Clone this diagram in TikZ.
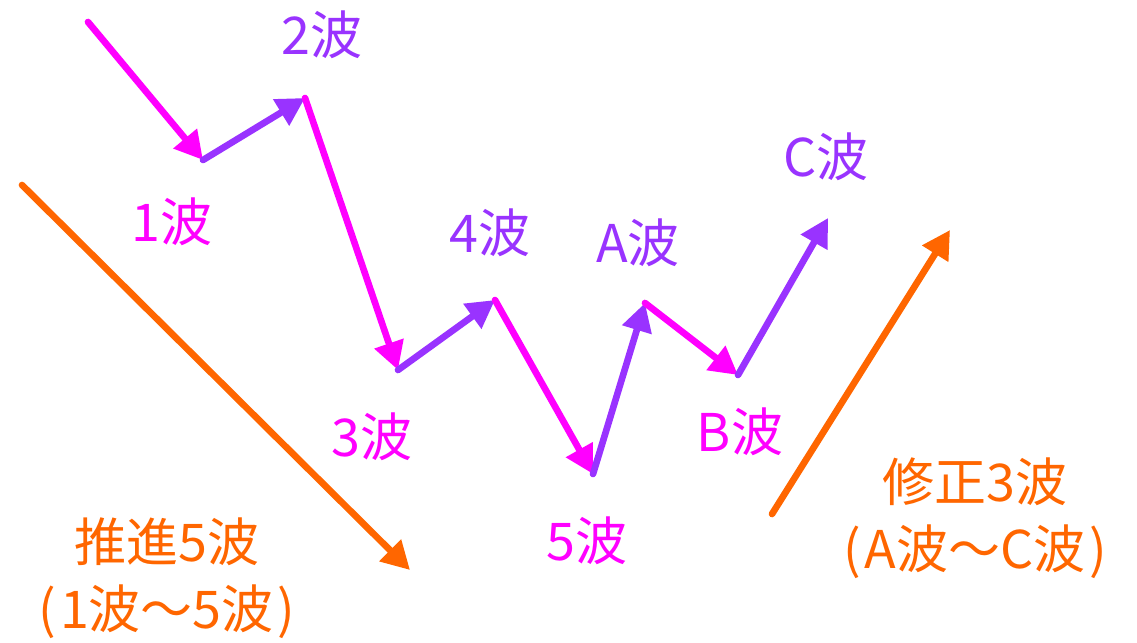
\documentclass[tikz,border=0pt]{standalone}
\usepackage{fontspec}
\setmainfont{Noto Sans CJK JP}
\usetikzlibrary{arrows.meta}
\definecolor{wavemag}{RGB}{255,0,255}
\definecolor{wavepur}{RGB}{153,51,255}
\definecolor{waveorg}{RGB}{255,102,0}
\tikzset{
  arrow/.style={-{Triangle[length=21pt,width=22pt]}, line width=5pt, line cap=round, draw=#1},
  arrow/.default={wavemag},
  lbl/.style={font=\fontsize{39}{50}\selectfont, text=#1, inner sep=0pt, align=center},
  lbl/.default={wavemag}
}
\begin{document}
\begin{tikzpicture}[x=0.75pt,y=-0.75pt]
        \useasboundingbox (0,0) rectangle (1137,642);
        % zigzag points
        \coordinate (p0) at (88,22);
        \coordinate (p1) at (203,160);
        \coordinate (p2) at (305,98);
        \coordinate (p3) at (398,370);
        \coordinate (p4) at (495,300);
        \coordinate (p5) at (593,474);
        \coordinate (p6) at (645,303);
        \coordinate (p7) at (738,375);
        \coordinate (p8) at (828,218);
        \draw[arrow] (p0) -- (p1);
        \draw[arrow=wavepur] (p1) -- (p2);
        \draw[arrow] (p2) -- (p3);
        \draw[arrow=wavepur] (p3) -- (p4);
        \draw[arrow] (p4) -- (p5);
        \draw[arrow=wavepur] (p5) -- (p6);
        \draw[arrow] (p6) -- (p7);
        \draw[arrow=wavepur] (p7) -- (p8);
        % wave labels
        \node[lbl] (w1) at (172,222) {1波};
        \node[lbl=wavepur] (w2) at (322,35) {2波};
        \node[lbl] (w3) at (372,437) {3波};
        \node[lbl=wavepur] (w4) at (490,233) {4波};
        \node[lbl] (w5) at (587,541) {5波};
        \node[lbl=wavepur] (wa) at (638,243) {A波};
        \node[lbl] (wb) at (740,432) {B波};
        \node[lbl=wavepur] (wc) at (826,157) {C波};
        % trends
        \coordinate (i0) at (22,185);
        \coordinate (i1) at (410,570);
        \coordinate (c0) at (772,514);
        \coordinate (c1) at (950,230);
        \draw[arrow=waveorg] (i0) -- (i1);
        \draw[arrow=waveorg] (c0) -- (c1);
        \node[lbl=waveorg] (imp) at (167,578) {推進5波\\(\hspace{3pt}1波～5波\hspace{3pt})};
        \node[lbl=waveorg] (cor) at (975,518) {修正3波\\(\hspace{3pt}A波～C波\hspace{3pt})};
      \end{tikzpicture}
\end{document}
